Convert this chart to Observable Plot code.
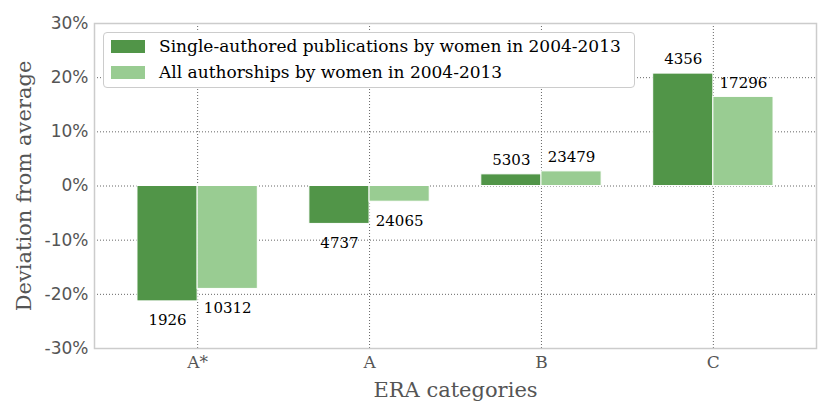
<!DOCTYPE html>
<html>
<head>
<meta charset="utf-8">
<script src="https://cdn.jsdelivr.net/npm/d3@7"></script>
<script src="https://cdn.jsdelivr.net/npm/@observablehq/plot@0.6"></script>
<style>
  html, body { margin: 0; padding: 0; background: #fff; }
  #wrap { position: relative; width: 830px; height: 415px; }
  #legend {
    position: absolute; left: 103px; top: 32px; width: 530px; height: 54px;
    background: #fff; border: 1px solid #ccc; border-radius: 4px;
    font-family: "DejaVu Serif", serif; font-size: 17px; color: #000;
  }
  .row { position: absolute; left: 7px; height: 20px; display: flex; align-items: center; white-space: nowrap; }
  .sw { width: 34px; height: 13px; margin-right: 14px; }
</style>
</head>
<body>
<div id="wrap"></div>
<script>
const categories = ["A*", "A", "B", "C"];
const seriesNames = [
  "Single-authored publications by women in 2004-2013",
  "All authorships by women in 2004-2013"
];
const singleValues = [-0.213, -0.070, 0.0215, 0.2075];
const allValues = [-0.190, -0.029, 0.027, 0.1645];
const singleCounts = [1926, 4737, 5303, 4356];
const allCounts = [10312, 24065, 23479, 17296];
const yTicks = [-0.3, -0.2, -0.1, 0, 0.1, 0.2, 0.3];
const colors = ["#519548", "#99cc92"];

const barWidth = 0.35;
const rows = [];
categories.forEach((cat, i) => {
  [singleValues, allValues].forEach((vals, s) => {
    const x1 = i - barWidth + s * barWidth;
    rows.push({
      cat, series: seriesNames[s], value: vals[i],
      count: (s === 0 ? singleCounts : allCounts)[i],
      x1, x2: x1 + barWidth, xm: x1 + barWidth / 2
    });
  });
});

const serif = "DejaVu Serif";
const plot = Plot.plot({
  width: 830,
  height: 415,
  marginLeft: 94,
  marginRight: 14,
  marginTop: 23,
  marginBottom: 67,
  style: { fontFamily: "DejaVu Sans", background: "#fff" },
  x: { domain: [-0.6, categories.length - 0.4], label: null },
  y: { domain: [-0.3, 0.3], label: null },
  color: { domain: seriesNames, range: colors },
  marks: [
    Plot.gridY(yTicks, { stroke: "#666", strokeOpacity: 1, strokeDasharray: "1,2" }),
    Plot.gridX(d3.range(categories.length), { stroke: "#666", strokeOpacity: 1, strokeDasharray: "1,2" }),
    Plot.rectY(rows, { x1: "x1", x2: "x2", y: "value", fill: "series", stroke: "white", strokeWidth: 1 }),
    Plot.text(rows.filter(d => d.value < 0), { x: "xm", y: "value", text: d => String(d.count), dy: 19, fontFamily: serif, fontSize: 15, fill: "#000" }),
    Plot.text(rows.filter(d => d.value >= 0), { x: "xm", y: "value", text: d => String(d.count), dy: -14, fontFamily: serif, fontSize: 15, fill: "#000" }),
    Plot.axisY(yTicks, { tickSize: 0, tickPadding: 6, fontSize: 17, color: "#555", tickFormat: d => `${Math.round(d * 100)}%`, label: null }),
    Plot.axisY([], { label: "Deviation from average", labelArrow: "none", labelAnchor: "center", labelOffset: 78, fontSize: 21, fontFamily: serif, color: "#555", tickSize: 0 }),
    Plot.axisX(d3.range(categories.length), { tickSize: 0, tickPadding: 7, fontSize: 17, fontFamily: serif, color: "#555", tickFormat: i => categories[i], label: null }),
    Plot.axisX([], { label: "ERA categories", labelArrow: "none", labelAnchor: "center", labelOffset: 48, fontSize: 21, fontFamily: serif, color: "#555", tickSize: 0 }),
    Plot.frame({ stroke: "#ccc", strokeWidth: 1.5 })
  ]
});
const wrap = document.getElementById("wrap");
wrap.appendChild(plot);

const legend = document.createElement("div");
legend.id = "legend";
seriesNames.forEach((name, s) => {
  const row = document.createElement("div");
  row.className = "row";
  row.style.top = (3 + s * 26) + "px";
  const sw = document.createElement("span");
  sw.className = "sw";
  sw.style.background = colors[s];
  const t = document.createElement("span");
  t.textContent = name;
  row.appendChild(sw);
  row.appendChild(t);
  legend.appendChild(row);
});
wrap.appendChild(legend);
</script>
</body>
</html>
